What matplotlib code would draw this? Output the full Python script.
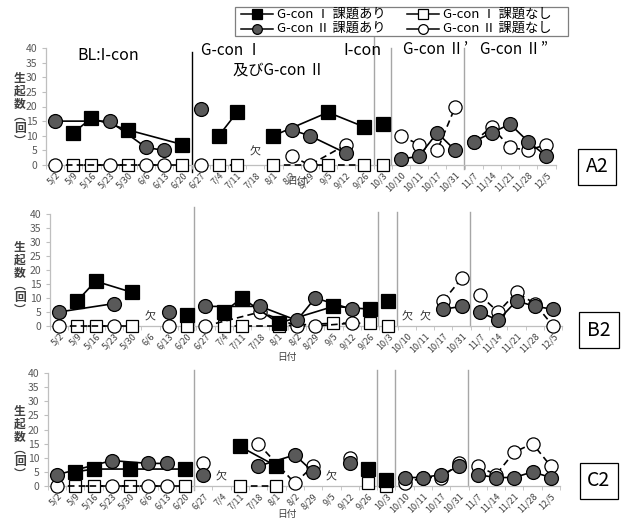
import matplotlib.pyplot as plt
from matplotlib.lines import Line2D
from matplotlib.patches import Rectangle

plt.rcParams['font.family'] = ['Noto Sans CJK JP', 'DejaVu Sans']

N = None
dates = ['5/2', '5/9', '5/16', '5/23', '5/30', '6/6', '6/13', '6/20', '6/27', '7/4',
         '7/11', '7/18', '8/1', '8/2', '8/29', '9/5', '9/12', '9/26', '10/3', '10/10',
         '10/11', '10/17', '10/31', '11/7', '11/14', '11/21', '11/28', '12/5']
phase_starts = [0, 8, 18, 19, 23]
phase_names = ['BL:I-con', 'G-con Ⅰ', '及びG-con Ⅱ', 'I-con', 'G-con Ⅱ’', 'G-con Ⅱ”']
legend_labels = ['G-con Ⅰ 課題あり', 'G-con Ⅰ 課題なし', 'G-con Ⅱ 課題あり', 'G-con Ⅱ 課題なし']

# panel A2
a_g1_yes = [N, 11, 16, N, 12, N, N, 7, N, 10, 18, N, 10, N, N, 18, N, 13, 14] + [N] * 9
a_g1_no = [N, 0, 0, N, 0, N, N, 0, N, 0, 0, N, 0, N, N, 0, N, 0, 0] + [N] * 9
a_g2_yes = [15, N, N, 15, N, 6, 5, N, 19, N, N, N, N, 12, 10, N, 4, N, N, 2, 3, 11, 5, 8, 11, 14, 8, 3]
a_g2_no = [0, N, N, 0, N, 0, 0, N, 0, N, N, N, N, 3, 0, N, 7, N, N, 10, 7, 5, 20, 8, 13, 6, 5, 7]
a_absent = [11]

# panel B2
b_g1_yes = [N, 9, 16, N, 12, N, N, 4, N, 5, 10, N, 1, N, N, 7, N, 6, 9] + [N] * 9
b_g1_no = [N, 0, 0, N, 0, N, N, 0, N, 0, 0, N, 0, N, N, 1, N, 1, 0] + [N] * 9
b_g2_yes = [5, N, N, 8, N, N, 5, N, 7, N, N, 7, N, 2, 10, N, 6, N, N, N, N, 6, 7, 5, 2, 9, 7, 6]
b_g2_no = [0, N, N, 0, N, N, 0, N, 0, N, N, 5, N, 0, 0, N, 1, N, N, N, N, 9, 17, 11, 5, 12, 8, 0]
b_absent = [5, 19, 20]

# panel C2
c_g1_yes = [N, 5, 6, N, 6, N, N, 6, N, N, 14, N, 7, N, N, N, N, 6, 2] + [N] * 9
c_g1_no = [N, 0, 0, N, 0, N, N, 0, N, N, 0, N, 0, N, N, N, N, 1, 0] + [N] * 9
c_g2_yes = [4, N, N, 9, N, 8, 8, N, 4, N, N, 7, N, 11, 5, N, 8, N, N, 3, 3, 4, 7, 4, 3, 3, 5, 3]
c_g2_no = [0, N, N, 0, N, 0, 0, N, 8, N, N, 15, N, 1, 7, N, 10, N, N, 1, 3, 3, 8, 7, 4, 12, 15, 7]
c_absent = [9, 15]

W, H = 622, 522
fig = plt.figure(figsize=(W / 100, H / 100), dpi=100)


def px_axes(left, right, top, bottom):
    return fig.add_axes([left / W, 1 - bottom / H, (right - left) / W, (bottom - top) / H])


def groups(absent):
    # lines break at phase changes and at absent sessions
    ends = phase_starts[1:] + [len(dates)]
    out = []
    for s, e in zip(phase_starts, ends):
        cur = []
        for i in range(s, e):
            if i in absent:
                if cur:
                    out.append(cur)
                cur = []
            else:
                cur.append(i)
        if cur:
            out.append(cur)
    return out


styles = {
    'g1_no': dict(marker='s', ms=9, mfc='white', mec='black', mew=0.9, ls=(0, (4, 2.5)), zorder=3),
    'g2_no': dict(marker='o', ms=9.5, mfc='white', mec='black', mew=0.9, ls=(0, (4, 2.5)), zorder=3),
    'g1_yes': dict(marker='s', ms=9.5, mfc='black', mec='black', mew=0.9, ls='-', zorder=4),
    'g2_yes': dict(marker='o', ms=10, mfc='#595959', mec='black', mew=0.9, ls='-', zorder=4),
}


def draw_panel(ax, series, absent, vlines, tag, tag_xy, ylab_y, xlab_xy, absent_y):
    grp = groups(absent)
    for key in ['g1_no', 'g2_no', 'g1_yes', 'g2_yes']:
        vals = series[key]
        for g in grp:
            xs = [i for i in g if vals[i] is not None]
            if not xs:
                continue
            ax.plot(xs, [vals[i] for i in xs], color='black', lw=1.2, clip_on=False, **styles[key])
    for i in absent:
        ax.text(i, absent_y, '欠', ha='center', va='center', fontsize=8, color='#333333')
    for x, y0, y1, col in vlines:
        ax.plot([x, x], [y0, y1], color=col, lw=1.0, clip_on=False, zorder=1)
    ax.set_xlim(-0.5, 27.5)
    ax.set_ylim(0, 40)
    ax.set_yticks(range(0, 41, 5))
    ax.set_xticks(range(len(dates)))
    ax.set_xticklabels(dates, rotation=45, ha='right', rotation_mode='anchor', fontsize=6.5, color='#404040')
    ax.set_xticks([i + 0.5 for i in range(-1, 28)], minor=True)
    ax.tick_params(axis='x', which='major', length=0, pad=4)
    ax.tick_params(axis='x', which='minor', length=3, color='#bfbfbf')
    ax.tick_params(axis='y', length=3, color='#bfbfbf', labelsize=7.5, labelcolor='#595959', pad=3)
    for s in ['top', 'right']:
        ax.spines[s].set_visible(False)
    for s in ['left', 'bottom']:
        ax.spines[s].set_color('#bfbfbf')
        ax.spines[s].set_linewidth(0.9)
    ax.patch.set_alpha(0)
    fig.text(20 / W, 1 - ylab_y / H, '生\n起\n数\n︵\n回\n︶', ha='center', va='center',
             fontsize=8.5, fontweight='bold', color='#404040', linespacing=0.95)
    fig.text(xlab_xy[0] / W, 1 - xlab_xy[1] / H, '日付', ha='center', va='center',
             fontsize=7, color='#404040')
    fig.text(tag_xy[0] / W, 1 - tag_xy[1] / H, tag, ha='center', va='center', fontsize=14,
             bbox=dict(boxstyle='square,pad=0.4', fc='white', ec='black', lw=0.9))


ax_a = px_axes(45.9, 555.5, 48, 165)
draw_panel(ax_a, dict(g1_yes=a_g1_yes, g1_no=a_g1_no, g2_yes=a_g2_yes, g2_no=a_g2_no), a_absent,
           [(7.5, -2.4, 38.6, 'black'), (17.5, 0, 43.7, '#a6a6a6'),
            (18.45, 0, 40, '#a6a6a6'), (22.45, -1.5, 40, '#a6a6a6')],
           'A2', (597, 167), 110, (297, 181), 4.3)

ax_b = px_axes(49.85, 562.25, 214, 326)
draw_panel(ax_b, dict(g1_yes=b_g1_yes, g1_no=b_g1_no, g2_yes=b_g2_yes, g2_no=b_g2_no), b_absent,
           [(7.4, -1.4, 42.5, '#a6a6a6'), (17.45, 0, 40.7, '#a6a6a6'),
            (18.45, 0, 40.7, '#a6a6a6'), (22.45, 0, 40.7, '#a6a6a6')],
           'B2', (599, 330), 279, (287, 357), 3.2)

ax_c = px_axes(47.85, 560, 373, 486)
draw_panel(ax_c, dict(g1_yes=c_g1_yes, g1_no=c_g1_no, g2_yes=c_g2_yes, g2_no=c_g2_no), c_absent,
           [(7.5, -1.4, 41.2, '#a6a6a6'), (17.5, 0, 41, '#a6a6a6'),
            (18.5, 0, 41, '#a6a6a6'), (22.45, 0, 41, '#a6a6a6')],
           'C2', (599, 481), 443, (287, 514), 3.0)

# phase titles on the top panel
ax_a.text(2.9, 37.5, phase_names[0], ha='center', va='center', fontsize=11.5, clip_on=False)
ax_a.text(9.7, 39.3, phase_names[1], ha='center', va='center', fontsize=11, clip_on=False)
ax_a.text(12.3, 32.4, phase_names[2], ha='center', va='center', fontsize=11, clip_on=False)
ax_a.text(16.9, 39.3, phase_names[3], ha='center', va='center', fontsize=11.5, clip_on=False)
ax_a.text(20.9, 39.5, phase_names[4], ha='center', va='center', fontsize=11, clip_on=False)
ax_a.text(25.2, 39.5, phase_names[5], ha='center', va='center', fontsize=11, clip_on=False)

# legend box drawn by hand (figure pixel positions)
fig.add_artist(Rectangle((235 / W, 1 - 36 / H), 333 / W, 29 / H, transform=fig.transFigure,
                         fc='white', ec='#7f7f7f', lw=0.9, zorder=5))
leg_styles = [
    dict(marker='s', ms=7, mfc='black', mec='black'),
    dict(marker='s', ms=7, mfc='white', mec='black'),
    dict(marker='o', ms=7, mfc='#595959', mec='black'),
    dict(marker='o', ms=7, mfc='white', mec='black'),
]
leg_pos = [(241, 14), (407, 14), (241, 28.5), (407, 28.5)]
for (lx, ly), lab, st in zip(leg_pos, legend_labels, leg_styles):
    yf = 1 - ly / H
    fig.add_artist(Line2D([lx / W, (lx + 32) / W], [yf, yf], transform=fig.transFigure,
                          color='black', lw=1.1, zorder=6))
    fig.add_artist(Line2D([(lx + 16) / W], [yf], transform=fig.transFigure, ls='none',
                          mew=0.9, zorder=7, **st))
    fig.text((lx + 36) / W, yf, lab, ha='left', va='center', fontsize=9.5, zorder=7)

fig.savefig('out.png', dpi=100, facecolor='white')
